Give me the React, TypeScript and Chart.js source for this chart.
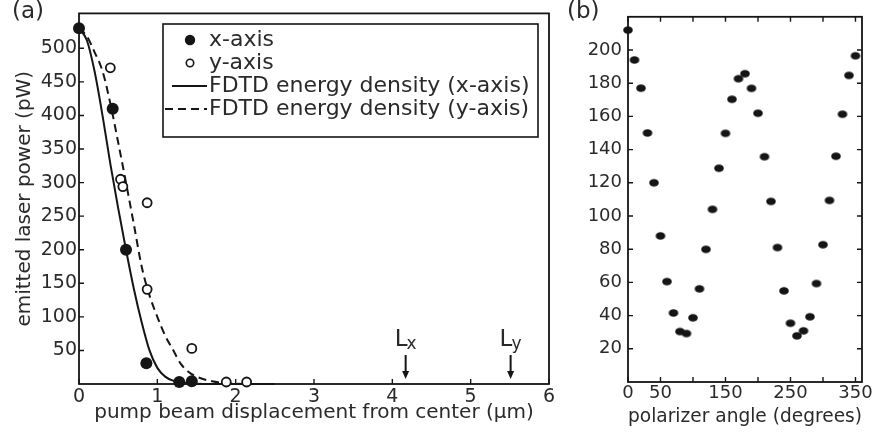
import React, { useEffect, useRef } from 'react';
import { Chart, registerables } from 'chart.js';

Chart.register(...registerables);

// ---------- Panel (a) data ----------
const xAxisDisp = [0, 0.43, 0.6, 0.86, 1.28, 1.44];
const xAxisPower = [530, 410, 200, 31, 3, 4];
const yAxisDisp = [0.4, 0.53, 0.56, 0.87, 0.87, 1.44, 1.88, 2.14];
const yAxisPower = [471, 305, 294, 270, 141, 53, 3, 3];
const fdtdXDisp = [0, 0.1, 0.2, 0.3, 0.4, 0.5, 0.6, 0.7, 0.8, 0.9, 1.0, 1.1, 1.2, 1.4, 1.6, 2.0, 2.5];
const fdtdXPower = [530, 512, 465, 400, 328, 262, 200, 142, 92, 50, 24, 11, 5, 1, 0, 0, 0];
const fdtdYDisp = [0, 0.1, 0.2, 0.3, 0.4, 0.5, 0.6, 0.7, 0.8, 0.9, 1.0, 1.1, 1.2, 1.3, 1.4, 1.5, 1.7, 1.9, 2.2, 2.5];
const fdtdYPower = [530, 518, 494, 466, 418, 360, 300, 238, 175, 132, 100, 72, 51, 30, 18, 11, 4, 1, 0, 0];
const aXTicks = [0, 1, 2, 3, 4, 5, 6];
const aYTicks = [50, 100, 150, 200, 250, 300, 350, 400, 450, 500];
const lengthSubscripts = ['x', 'y'];
const lengthPositions = [4.17, 5.51];
const seriesLabels = ['x-axis', 'y-axis', 'FDTD energy density (x-axis)', 'FDTD energy density (y-axis)'];

// ---------- Panel (b) data ----------
const angles = [0, 10, 20, 30, 40, 50, 60, 70, 80, 90, 100, 110, 120, 130, 140, 150, 160, 170,
  180, 190, 200, 210, 220, 230, 240, 250, 260, 270, 280, 290, 300, 310, 320, 330, 340, 350];
const anglePower = [212, 194, 177, 150, 120, 88, 60.5, 41.6, 30.4, 29.2, 38.7, 56.1, 79.9, 104, 128.8, 149.8, 170.3, 182.7,
  185.7, 176.9, 161.9, 135.7, 108.8, 81, 54.9, 35.4, 27.8, 30.8, 39.3, 59.3, 82.7, 109.4, 136, 161.3, 184.7, 196.5];
const bXTicks = [0, 50, 100, 150, 200, 250, 300, 350];
const bXLabels = [0, 50, 150, 250, 350];
const bYTicks = [20, 40, 60, 80, 100, 120, 140, 160, 180, 200];

const INK = '#151515';
const TEXT = '#2a2a2a';
const FONT = "'DejaVu Sans', 'Liberation Sans', sans-serif";

const pts = (xs: number[], ys: number[]) => xs.map((x, i) => ({ x, y: ys[i] }));

function framePlugin(mirror: boolean) {
  return {
    id: 'frameTicks',
    beforeDatasetsDraw(chart: any) {
      const { ctx, chartArea: a, scales } = chart;
      ctx.save();
      ctx.strokeStyle = INK;
      ctx.lineWidth = 1.8;
      ctx.strokeRect(a.left, a.top, a.right - a.left, a.bottom - a.top);
      ctx.lineWidth = 1.4;
      ctx.beginPath();
      for (const t of scales.x.ticks) {
        const px = scales.x.getPixelForValue(t.value);
        ctx.moveTo(px, a.bottom);
        ctx.lineTo(px, a.bottom - 5);
        if (mirror) {
          ctx.moveTo(px, a.top);
          ctx.lineTo(px, a.top + 5);
        }
      }
      for (const t of scales.y.ticks) {
        const py = scales.y.getPixelForValue(t.value);
        ctx.moveTo(a.left, py);
        ctx.lineTo(a.left + 5, py);
        if (mirror) {
          ctx.moveTo(a.right, py);
          ctx.lineTo(a.right - 5, py);
        }
      }
      ctx.stroke();
      ctx.restore();
    },
  };
}

function panelLabel(text: string, x: number) {
  return {
    id: 'panelLabel',
    afterDraw(chart: any) {
      const { ctx } = chart;
      ctx.save();
      ctx.fillStyle = TEXT;
      ctx.font = `23px ${FONT}`;
      ctx.textAlign = 'left';
      ctx.textBaseline = 'middle';
      ctx.fillText(text, x, 12);
      ctx.restore();
    },
  };
}

const legendPlugin = {
  id: 'boxLegend',
  afterDraw(chart: any) {
    const { ctx } = chart;
    const ds = chart.data.datasets;
    const left = 163, top = 24, w = 375, h = 113;
    ctx.save();
    ctx.fillStyle = '#fff';
    ctx.fillRect(left, top, w, h);
    ctx.strokeStyle = INK;
    ctx.lineWidth = 1.6;
    ctx.strokeRect(left, top, w, h);
    const rowY = [40, 63, 86, 109];
    const textX = 209;
    ctx.fillStyle = INK;
    ctx.beginPath();
    ctx.arc(190, rowY[0], 5.2, 0, Math.PI * 2);
    ctx.fill();
    ctx.lineWidth = 1.6;
    ctx.beginPath();
    ctx.arc(190, rowY[1], 3.7, 0, Math.PI * 2);
    ctx.stroke();
    ctx.lineWidth = 2;
    ctx.beginPath();
    ctx.moveTo(172, rowY[2]);
    ctx.lineTo(207, rowY[2]);
    ctx.stroke();
    ctx.setLineDash([8, 5]);
    ctx.beginPath();
    ctx.moveTo(165, rowY[3]);
    ctx.lineTo(207, rowY[3]);
    ctx.stroke();
    ctx.setLineDash([]);
    ctx.fillStyle = TEXT;
    ctx.font = `22px ${FONT}`;
    ctx.textBaseline = 'middle';
    ctx.textAlign = 'left';
    for (let i = 0; i < 4; i++) ctx.fillText(ds[i].label, textX, rowY[i]);
    ctx.restore();
  },
};

const lengthMarkers = {
  id: 'lengthMarkers',
  afterDatasetsDraw(chart: any) {
    const { ctx, scales } = chart;
    const yTop = 355, yTip = 379;
    ctx.save();
    ctx.strokeStyle = INK;
    ctx.fillStyle = INK;
    lengthPositions.forEach((v, i) => {
      const px = scales.x.getPixelForValue(v);
      ctx.lineWidth = 2;
      ctx.beginPath();
      ctx.moveTo(px, yTop);
      ctx.lineTo(px, yTip - 6);
      ctx.stroke();
      ctx.beginPath();
      ctx.moveTo(px - 3.5, yTip - 8);
      ctx.lineTo(px + 3.5, yTip - 8);
      ctx.lineTo(px, yTip);
      ctx.closePath();
      ctx.fill();
      ctx.fillStyle = TEXT;
      ctx.textBaseline = 'alphabetic';
      ctx.textAlign = 'left';
      ctx.font = `23px ${FONT}`;
      const lx = px - 11;
      ctx.fillText('L', lx, 346);
      const lw = ctx.measureText('L').width;
      ctx.font = `17px ${FONT}`;
      ctx.fillText(lengthSubscripts[i], lx + lw - 1, 349);
      ctx.fillStyle = INK;
    });
    ctx.restore();
  },
};

function ChartA() {
  const ref = useRef<HTMLCanvasElement>(null);
  useEffect(() => {
    const chart = new Chart(ref.current as HTMLCanvasElement, {
      type: 'scatter',
      data: {
        datasets: [
          {
            label: seriesLabels[0],
            data: pts(xAxisDisp, xAxisPower),
            pointRadius: 6,
            pointBorderWidth: 0,
            backgroundColor: INK,
            borderColor: INK,
            clip: false,
          } as any,
          {
            label: seriesLabels[1],
            data: pts(yAxisDisp, yAxisPower),
            pointRadius: 4.5,
            pointBorderWidth: 1.8,
            backgroundColor: '#fff',
            borderColor: INK,
            clip: false,
          },
          {
            label: seriesLabels[2],
            data: pts(fdtdXDisp, fdtdXPower),
            showLine: true,
            pointRadius: 0,
            borderColor: INK,
            borderWidth: 2,
            cubicInterpolationMode: 'monotone',
            clip: false,
          },
          {
            label: seriesLabels[3],
            data: pts(fdtdYDisp, fdtdYPower),
            showLine: true,
            pointRadius: 0,
            borderColor: INK,
            borderWidth: 2,
            borderDash: [8, 5],
            cubicInterpolationMode: 'monotone',
            clip: false,
          },
        ],
      },
      options: {
        responsive: false,
        animation: false,
        layout: { padding: { top: 13, right: 11, left: 0, bottom: 0 } },
        plugins: { legend: { display: false }, tooltip: { enabled: false } },
        scales: {
          x: {
            type: 'linear',
            min: 0,
            max: 6,
            afterBuildTicks: (s: any) => { s.ticks = aXTicks.map((v) => ({ value: v })); },
            afterFit: (s: any) => { s.height = 49; },
            grid: { display: false, drawTicks: false },
            border: { display: false },
            ticks: { color: TEXT, font: { family: FONT, size: 19 }, padding: 2, maxRotation: 0 },
            title: {
              display: true,
              text: 'pump beam displacement from center (μm)',
              color: TEXT,
              font: { family: FONT, size: 20 },
              padding: { top: 0, bottom: 8 },
            },
          },
          y: {
            type: 'linear',
            min: 0,
            max: 552,
            afterBuildTicks: (s: any) => { s.ticks = aYTicks.map((v) => ({ value: v })); },
            afterFit: (s: any) => { s.width = 79; },
            grid: { display: false, drawTicks: false },
            border: { display: false },
            ticks: { color: TEXT, font: { family: FONT, size: 19 }, padding: 2 },
            title: {
              display: true,
              text: 'emitted laser power (pW)',
              color: TEXT,
              font: { family: FONT, size: 20 },
              padding: { top: 13, bottom: 0 },
            },
          },
        },
      },
      plugins: [framePlugin(false), legendPlugin, lengthMarkers, panelLabel('(a)', 12)],
    } as any);
    return () => chart.destroy();
  }, []);
  return <canvas ref={ref} width={560} height={433} style={{ position: 'absolute', left: 0, top: 0 }} />;
}

function ChartB() {
  const ref = useRef<HTMLCanvasElement>(null);
  useEffect(() => {
    const dot = document.createElement('canvas');
    dot.width = 12;
    dot.height = 10;
    const c = dot.getContext('2d') as CanvasRenderingContext2D;
    c.fillStyle = INK;
    c.beginPath();
    c.ellipse(6, 5, 4.8, 3.8, 0, 0, Math.PI * 2);
    c.fill();
    const chart = new Chart(ref.current as HTMLCanvasElement, {
      type: 'scatter',
      data: {
        datasets: [
          {
            label: 'polarizer',
            data: pts(angles, anglePower),
            pointStyle: dot,
            pointRadius: 5,
            backgroundColor: INK,
            borderColor: INK,
            clip: false,
          } as any,
        ],
      },
      options: {
        responsive: false,
        animation: false,
        layout: { padding: { top: 13, right: 12, left: 0, bottom: 0 } },
        plugins: { legend: { display: false }, tooltip: { enabled: false } },
        scales: {
          x: {
            type: 'linear',
            min: 0,
            max: 360,
            afterBuildTicks: (s: any) => { s.ticks = bXTicks.map((v) => ({ value: v })); },
            afterFit: (s: any) => { s.height = 51; },
            grid: { display: false, drawTicks: false },
            border: { display: false },
            ticks: {
              color: TEXT,
              font: { family: FONT, size: 18 },
              padding: 1,
              maxRotation: 0,
              autoSkip: false,
              callback: (v: any) => (bXLabels.includes(Number(v)) ? String(v) : ''),
            },
            title: {
              display: true,
              text: 'polarizer angle (degrees)',
              color: TEXT,
              font: { family: FONT, size: 20 },
              padding: { top: 0, bottom: 4 },
            },
          },
          y: {
            type: 'linear',
            min: 0,
            max: 220,
            afterBuildTicks: (s: any) => { s.ticks = bYTicks.map((v) => ({ value: v })); },
            afterFit: (s: any) => { s.width = 68; },
            grid: { display: false, drawTicks: false },
            border: { display: false },
            ticks: { color: TEXT, font: { family: FONT, size: 18 }, padding: 6 },
          },
        },
      },
      plugins: [framePlugin(true), panelLabel('(b)', 7)],
    } as any);
    return () => chart.destroy();
  }, []);
  return <canvas ref={ref} width={314} height={433} style={{ position: 'absolute', left: 560, top: 0 }} />;
}

export default function App() {
  return (
    <div style={{ position: 'absolute', left: 0, top: 0, width: 874, height: 433, background: '#fff', overflow: 'hidden' }}>
      <ChartA />
      <ChartB />
    </div>
  );
}
